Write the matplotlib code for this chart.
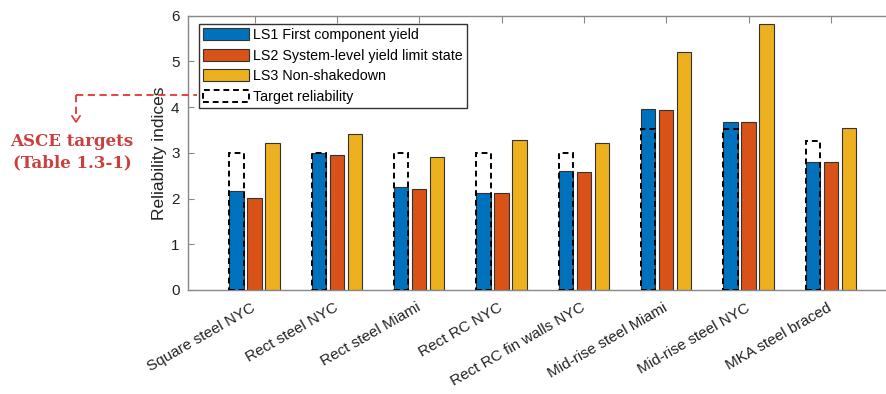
import matplotlib
matplotlib.use("Agg")
import matplotlib.pyplot as plt
import numpy as np
from matplotlib.lines import Line2D
from matplotlib.patches import Patch

categories = ["Square steel NYC", "Rect steel NYC", "Rect steel Miami", "Rect RC NYC",
              "Rect RC fin walls NYC", "Mid-rise steel Miami", "Mid-rise steel NYC", "MKA steel braced"]
ls1 = [2.17, 2.99, 2.26, 2.13, 2.61, 3.96, 3.67, 2.79]
ls2 = [2.02, 2.96, 2.21, 2.13, 2.58, 3.93, 3.67, 2.79]
ls3 = [3.22, 3.41, 2.90, 3.28, 3.21, 5.21, 5.83, 3.55]
target = [3.0, 3.0, 3.0, 3.0, 3.0, 3.52, 3.52, 3.26]
series_labels = ["LS1 First component yield", "LS2 System-level yield limit state",
                 "LS3 Non-shakedown", "Target reliability"]
colors = ["#0072BD", "#D95319", "#EDB120"]

plt.rcParams['font.family'] = ['Liberation Sans', 'DejaVu Sans']

fig = plt.figure(figsize=(8.86, 3.94), dpi=100)
ax = fig.add_axes([0.212, 0.264, 0.788, 0.696])

x = np.arange(1, len(categories) + 1)
off = 0.219
w = 0.175
ec = "#333333"
for i, (vals, c) in enumerate(zip([ls1, ls2, ls3], colors)):
    ax.bar(x + (i - 1) * off, vals, width=w, color=c, edgecolor=ec, linewidth=0.8, zorder=2)
ax.bar(x - off, target, width=w, facecolor="none", edgecolor="black", linewidth=1.4,
       linestyle=(0, (3, 2)), zorder=3)

ax.set_xlim(0.19, 8.67)
ax.set_ylim(0, 6)
ax.set_yticks(range(7))
ax.set_xticks(x)
ax.set_xticklabels(categories, rotation=30, ha='right', va='center', rotation_mode='anchor',
                   fontsize=11, color="#222222")
ax.tick_params(axis='x', direction='in', length=4, pad=12, color="#7a4040", zorder=4)
ax.tick_params(axis='y', direction='in', length=4, labelsize=11, labelcolor="#222222",
               color="#888888", pad=6)
ax.set_ylabel("Reliability indices", fontsize=12.5, color="#222222", labelpad=3)
for s in ['left', 'bottom', 'top']:
    ax.spines[s].set_color("#888888")
    ax.spines[s].set_linewidth(1.0)
ax.spines['right'].set_visible(False)

top = ax.secondary_xaxis('top')
top.set_xticks(x)
top.set_xticklabels([])
top.tick_params(direction='in', length=5, color="#888888")
top.spines['top'].set_visible(False)

handles = [Patch(facecolor=c, edgecolor=ec, linewidth=0.8) for c in colors]
handles.append(Patch(facecolor='none', edgecolor='black', linewidth=1.4, linestyle=(0, (3, 2))))
leg = ax.legend(handles, series_labels, loc='upper left', bbox_to_anchor=(0.0158, 0.97),
                borderaxespad=0, fontsize=10.3, handlelength=3.2, handleheight=0.9,
                handletextpad=0.3, labelspacing=0.45, borderpad=0.3, fancybox=False, framealpha=1)
leg.get_frame().set_edgecolor("#333333")
leg.get_frame().set_linewidth(1.0)

red = "#c9403e"
W, H = 886, 394
def fx(px): return px / W
def fy(py): return 1 - py / H
fig.add_artist(Line2D([fx(76), fx(197)], [fy(95), fy(95)], color="#e8332e", lw=1.3,
                      linestyle=(0, (4, 2.5)), transform=fig.transFigure))
fig.add_artist(Line2D([fx(76), fx(76)], [fy(95), fy(119)], color="#e8332e", lw=1.3,
                      linestyle=(0, (4, 2.5)), transform=fig.transFigure))
fig.add_artist(Line2D([fx(72), fx(76), fx(80)], [fy(116), fy(122), fy(116)], color="#e8332e", lw=1.2,
                      transform=fig.transFigure))
fig.text(fx(72), fy(141), "ASCE targets", color=red, fontsize=12, fontweight='bold',
         family='DejaVu Serif', ha='center', va='center')
fig.text(fx(72), fy(163), "(Table 1.3-1)", color=red, fontsize=12, fontweight='bold',
         family='DejaVu Serif', ha='center', va='center')

fig.savefig("out.png", dpi=100)
